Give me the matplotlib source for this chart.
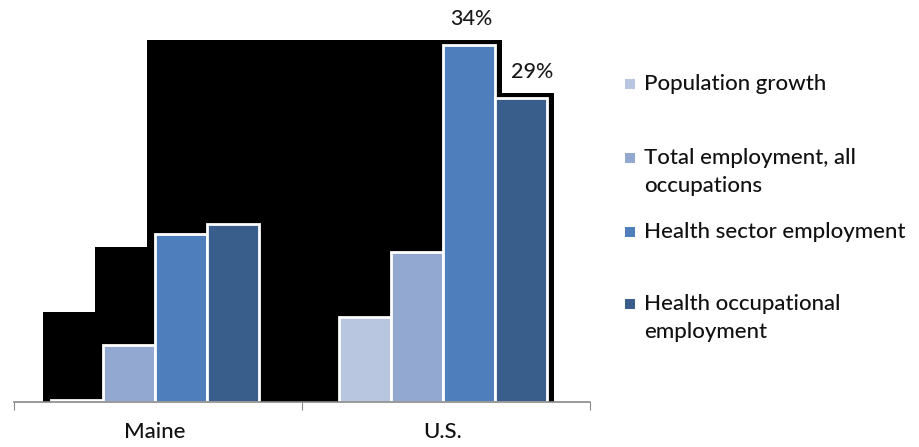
import matplotlib
matplotlib.use("Agg")
import matplotlib.pyplot as plt
from matplotlib.patches import Rectangle
import numpy as np

plt.rcParams['font.family'] = ['Lato', 'DejaVu Sans']

categories = ["Maine", "U.S."]
series_names = ["Population growth", "Total employment, all\noccupations",
                "Health sector employment", "Health occupational\nemployment"]
series_colors = ["#b9c6e0", "#93a8d0", "#4f7ebd", "#3a5e8c"]
values = {
    "Population growth": [0.2, 8.1],
    "Total employment, all\noccupations": [5.4, 14.3],
    "Health sector employment": [16.0, 34.0],
    "Health occupational\nemployment": [17.0, 29.0],
}
value_labels = {2: "34%", 3: "29%"}  # series index -> label shown on U.S. bar

W, H = 919, 447
fig = plt.figure(figsize=(W / 100, H / 100), dpi=100)
ax = fig.add_axes([14 / W, 45 / H, (590 - 14) / W, 399 / H])

x = np.arange(len(categories))
bw = 0.18
n = len(series_names)
offsets = (np.arange(n) - (n - 1) / 2) * bw
px_x = 1 / 288.0   # data units per pixel (x)
px_y = 38 / 399.0  # data units per pixel (y)
label_dx = {2: 2, 3: 11}
weight = "medium"

# black drop shadows spanning each series across both groups
for i, name in enumerate(series_names):
    v = values[name]
    left = x[0] + offsets[i] - bw / 2 - 8 * px_x
    right = x[-1] + offsets[i] + bw / 2 + 7 * px_x
    top = max(v) + 5 * px_y
    ax.add_patch(Rectangle((left, 0), right - left, top, facecolor="black",
                           edgecolor="none", zorder=1))

for i, name in enumerate(series_names):
    ax.bar(x + offsets[i], values[name], width=bw, color=series_colors[i],
           edgecolor="white", linewidth=2, zorder=2)
    if i in value_labels:
        ax.text(x[-1] + offsets[i] + label_dx[i] * px_x,
                values[name][-1] + 26 * px_y, value_labels[i],
                ha="center", va="center", fontsize=15.5, color="#1a1a1a",
                fontweight=weight, zorder=3)

ax.set_xlim(-0.49, 1.51)
ax.set_ylim(0, 38)
for s in ["top", "right", "left"]:
    ax.spines[s].set_visible(False)
ax.spines["bottom"].set_color("#888888")
ax.spines["bottom"].set_linewidth(1.2)
ax.set_yticks([])
ax.set_xticks([-0.49, 0.51, 1.51], minor=False)
ax.set_xticklabels([])
ax.tick_params(axis="x", direction="out", length=6, color="#888888")
for xi, c in zip(x, categories):
    ax.text(xi, -30 * px_y, c, ha="center", va="center", fontsize=16,
            color="#111111", fontweight=weight, clip_on=False)

# legend drawn manually
leg_y = [84, 172, 232, 318]
for i, name in enumerate(series_names):
    yc = 1 - leg_y[i] / H
    nlines = name.count("\n") + 1
    yfirst = yc + (nlines - 1) * 14 / H
    fig.patches.append(Rectangle((625 / W, yfirst - 5 / H), 10 / W, 10 / H,
                                 facecolor=series_colors[i], edgecolor="none",
                                 transform=fig.transFigure, figure=fig))
    fig.text(644 / W, yc, name, ha="left", va="center", fontsize=16,
             color="#111111", linespacing=1.5, fontweight=weight)

fig.savefig("out.png", dpi=100)
